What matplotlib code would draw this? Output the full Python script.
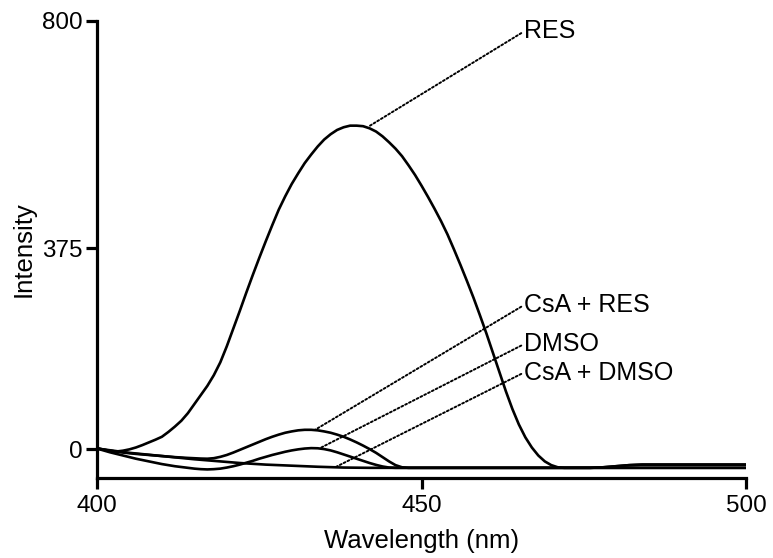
import matplotlib
matplotlib.use("Agg")
import matplotlib.pyplot as plt

plt.rcParams['font.family'] = ['Liberation Sans', 'DejaVu Sans']

# ---- data ----
res_wl = [400, 401, 402, 403, 404, 405, 406, 407, 408, 409, 410, 411, 412, 413, 414,
          415, 416, 417, 418, 419, 420, 421, 422, 423, 424, 425, 426, 427, 428, 429,
          430, 431, 432, 433, 434, 435, 436, 437, 438, 439, 440, 441, 442, 443, 444,
          445, 446, 447, 448, 449, 450, 451, 452, 453, 454, 455, 456, 457, 458, 459,
          460, 461, 462, 463, 464, 465, 466, 467, 468, 469, 470, 471, 472, 476, 478,
          480, 482, 484, 500]
res_val = [2, -1, -3.5, -4.5, -3, -0.5, 3, 7.5, 12.5, 17.5, 23, 32, 42, 53, 67,
           84, 101, 118, 138, 162, 192, 225, 258, 292, 325, 357, 388, 418, 447, 472,
           495, 515, 534, 550, 565, 578, 588, 596, 601, 604, 604, 603, 599, 593, 584,
           573, 561, 547, 530, 512, 492, 471, 449, 426, 401, 373, 344, 314, 283, 250,
           216, 180, 144, 108, 75, 46, 22, 3, -12, -23, -30, -34, -35, -35, -34,
           -32, -30, -29, -29]

csa_res_wl = [400, 402, 404, 406, 408, 410, 412, 414, 416, 417, 418, 419, 420, 421,
              422, 423, 424, 425, 426, 427, 428, 429, 430, 431, 432, 433, 434, 435,
              436, 437, 438, 439, 440, 441, 442, 443, 444, 445, 446, 447, 448, 476,
              478, 480, 482, 484, 500]
csa_res_val = [1, -3, -6.5, -9, -11, -13, -15, -16.5, -17.7, -18, -17, -14.5, -11, -6.5,
               -1.5, 3.5, 8.5, 13.5, 18.5, 23, 27, 30.5, 33, 35, 36, 36, 35, 33,
               30.5, 27, 23, 18, 12.5, 6.5, 0, -7, -15, -23, -30, -34, -35, -35,
               -34, -32, -30, -29, -29]

dmso_wl = [400, 402, 404, 406, 408, 410, 412, 414, 415, 416, 417, 418, 419, 420,
           421, 422, 423, 424, 425, 426, 427, 428, 429, 430, 431, 432, 433, 434,
           435, 436, 437, 438, 439, 440, 441, 442, 443, 444, 445, 446, 500]
dmso_val = [1, -6, -12, -18, -23, -28, -32, -35, -36.5, -37.5, -38, -37.5, -36.5, -34.5,
            -32, -29, -25.5, -22, -18, -14.5, -11, -8, -5, -2.5, -0.5, 1, 1.8, 1.5,
            0, -2.5, -6, -10, -14, -18, -22, -26, -29.5, -32.5, -34.5, -35, -35]

csa_dmso_wl = [400, 405, 410, 415, 419, 422, 426, 430, 434, 438, 442, 446, 500]
csa_dmso_val = [1, -7, -13, -19, -23, -26, -29, -31, -33, -34.5, -35, -35, -35]

labels = ["RES", "CsA + RES", "DMSO", "CsA + DMSO"]
label_pos = [(465.8, 780), (465.8, 269), (465.8, 196), (465.8, 143)]
label_target = [(441.8, 602), (433.6, 36), (434.4, 2), (436.7, -34)]

x_ticks = [400, 450, 500]
y_ticks = [0, 375, 800]

# ---- figure ----
fig = plt.figure(figsize=(7.73, 5.58), dpi=100)
ax = fig.add_axes([97 / 773, (558 - 478) / 558, (746 - 97) / 773, (478 - 20.7) / 558])

lw = 1.9
for wl, val in [(res_wl, res_val), (csa_res_wl, csa_res_val),
                (dmso_wl, dmso_val), (csa_dmso_wl, csa_dmso_val)]:
    ax.plot(wl, val, color='black', lw=lw, solid_joinstyle='round',
            solid_capstyle='butt', zorder=3)

for lab, (tx, ty), (px, py) in zip(labels, label_pos, label_target):
    ax.annotate(lab, xy=(px, py), xytext=(tx, ty), textcoords='data',
                ha='left', va='center', fontsize=18,
                arrowprops=dict(arrowstyle='-', linestyle=(0, (1.0, 1.2)),
                                lw=1.4, color='black', shrinkA=0, shrinkB=0,
                                relpos=(0, 0.5)),
                annotation_clip=False)

ax.set_xlim(400, 500)
ax.set_ylim(-54, 800)
ax.set_xticks(x_ticks)
ax.set_yticks(y_ticks)
for s in ['top', 'right']:
    ax.spines[s].set_visible(False)
for s in ['left', 'bottom']:
    ax.spines[s].set_linewidth(2.3)
ax.tick_params(axis='both', direction='out', length=7.7, width=2.3,
               labelsize=17.5, colors='black')
ax.tick_params(axis='x', pad=4.5)
ax.tick_params(axis='y', pad=3)
ax.set_xlabel("Wavelength (nm)", fontsize=18.5, labelpad=9)
ax.set_ylabel("Intensity", fontsize=18.5, labelpad=4)

fig.savefig("out.png", dpi=100)
